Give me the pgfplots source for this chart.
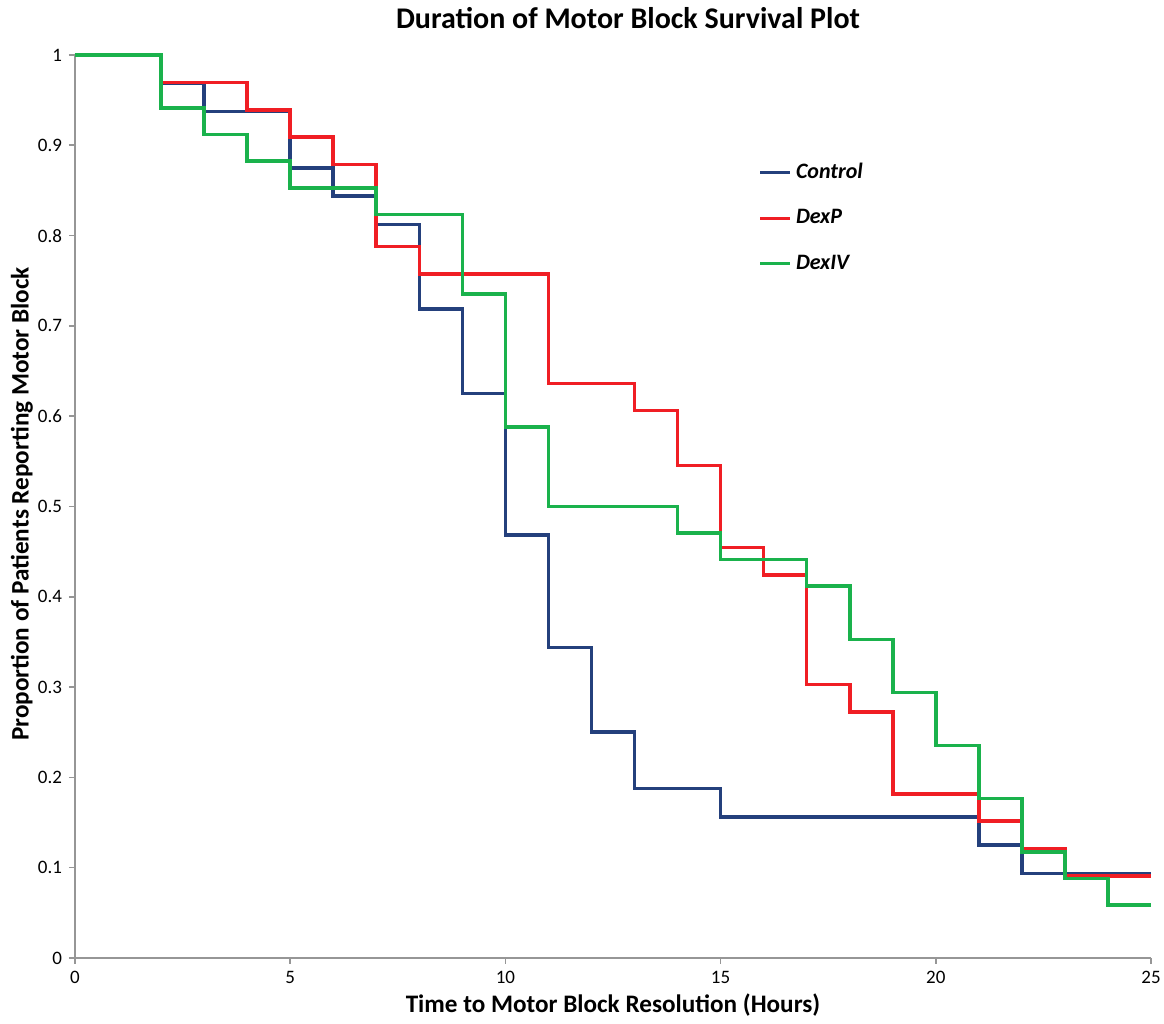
\documentclass[border=0pt]{standalone}
\usepackage{pgfplots}
\pgfplotsset{compat=1.18}
\usepackage{fontspec}
\setmainfont{Carlito}
\definecolor{cblue}{RGB}{36,64,124}
\definecolor{cred}{RGB}{240,30,36}
\definecolor{cgreen}{RGB}{26,178,76}
\definecolor{axgray}{RGB}{150,150,150}
\begin{document}
\begin{tikzpicture}
\useasboundingbox (-37.5pt,-33pt) rectangle (544.5pt,479pt);
\begin{axis}[
  scale only axis, width=538pt, height=451.5pt,
  xmin=0, xmax=25, ymin=0, ymax=1,
  axis lines=left, axis line style={axgray, line width=0.8pt, -},
  xtick={0,5,10,15,20,25},
  ytick={0,0.1,0.2,0.3,0.4,0.5,0.6,0.7,0.8,0.9,1},
  yticklabels={0,0.1,0.2,0.3,0.4,0.5,0.6,0.7,0.8,0.9,1},
  tick style={axgray, line width=0.8pt},
  tick align=outside, major tick length=3pt,
  tick label style={font=\fontsize{9.5}{10}\selectfont},
  /pgf/number format/assume math mode=true,
  legend style={at={(rel axis cs:0.635,0.885)}, anchor=north west, draw=none, fill=none,
    font=\fontsize{11}{12}\selectfont\bfseries\itshape, row sep=10pt, inner sep=0pt,
    legend cell align=left},
  legend image code/.code={\draw[#1, line width=1.7pt] (0pt,0pt) -- (15pt,0pt);},
  clip=false,
]
\addplot[const plot, color=cblue, line width=1.8pt] coordinates {
(0,1) (2,0.96875) (3,0.9375) (5,0.875) (6,0.84375) (7,0.8125) (8,0.71875) (9,0.625)
(10,0.46875) (11,0.34375) (12,0.25) (13,0.1875) (15,0.15625) (21,0.125) (22,0.09375) (25,0.09375)};
\addlegendentry{Control}
\addplot[const plot, color=cred, line width=1.8pt] coordinates {
(0,1) (2,0.9697) (4,0.9394) (5,0.9091) (6,0.8788) (7,0.7879) (8,0.7576) (11,0.6364)
(13,0.6061) (14,0.5455) (15,0.4545) (16,0.4242) (17,0.3030) (18,0.2727) (19,0.1818)
(21,0.1515) (22,0.1212) (23,0.0909) (25,0.0909)};
\addlegendentry{DexP}
\addplot[const plot, color=cgreen, line width=1.8pt] coordinates {
(0,1) (2,0.9412) (3,0.9118) (4,0.8824) (5,0.8529) (7,0.8235) (9,0.7353) (10,0.5882)
(11,0.5) (14,0.4706) (15,0.4412) (17,0.4118) (18,0.3529) (19,0.2941) (20,0.2353)
(21,0.1765) (22,0.1176) (23,0.0882) (24,0.0588) (25,0.0588)};
\addlegendentry{DexIV}
\end{axis}
\node[font=\fontsize{15}{16}\selectfont\bfseries] at (276.5pt,470pt) {Duration of Motor Block Survival Plot};
\node[font=\fontsize{12.6}{14}\selectfont\bfseries] at (269pt,-23.5pt) {Time to Motor Block Resolution (Hours)};
\node[font=\fontsize{12.6}{14}\selectfont\bfseries, rotate=90] at (-26.5pt,227pt) {Proportion of Patients Reporting Motor Block};
\end{tikzpicture}
\end{document}
